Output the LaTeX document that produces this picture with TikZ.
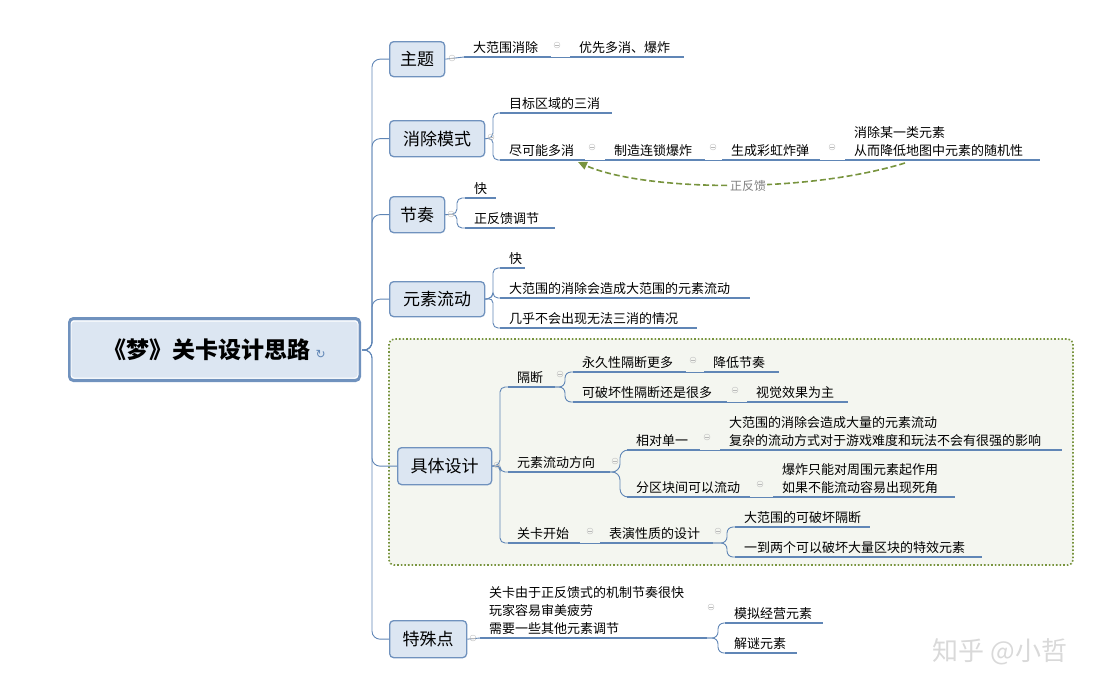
\documentclass[tikz,border=0pt]{standalone}
\usepackage{fontspec}
\setmainfont{Noto Sans CJK SC}
\newfontfamily\djv{DejaVu Sans}
\usetikzlibrary{arrows.meta}
\definecolor{ln}{RGB}{96,134,182}
\definecolor{bx}{RGB}{220,230,242}
\definecolor{bd}{RGB}{112,146,190}
\definecolor{ol}{RGB}{120,148,62}
\tikzset{
 cn/.style={draw=ln,line width=0.9pt},
 uline/.style={draw=ln,line width=2.2pt},
 lt/.style={inner sep=1pt,font=\fontsize{13}{18}\selectfont,align=left},
 topic/.style={draw=bd,fill=bx,rounded corners=4pt,line width=1.3pt,font=\fontsize{17}{20}\selectfont,inner sep=0pt,anchor=north west},
 mn/.style={circle,draw=gray!50,inner sep=0pt,minimum size=6pt,line width=0.4pt},
}
\newcommand\lf[5]{\coordinate (#1w) at (#2,#4); \coordinate (#1e) at (#3,#4);
 \draw[uline] (#1w)--(#1e); \node[lt,anchor=south west] (#1) at ({#2+8},{#4-2}) {#5};}
\newcommand\mn[2]{\node[mn] at (#1,#2) {}; \draw[gray!55,line width=0.4pt] ({#1-1.6},#2)--({#1+1.6},#2);}
\newcommand\tp[6]{\node[topic,minimum width=#4pt,minimum height=#5pt] (#1) at (#2,#3) {#6};}
\begin{document}
\begin{tikzpicture}[x=1pt,y=-1pt]
\useasboundingbox (0,0) rectangle (1118,697);
% frame
\draw[ol,dotted,line width=1.6pt,fill=ol!8,rounded corners=5pt] (389,339) rectangle (1073,565);
% root
\node[draw=bd,line width=3pt,fill=bx,rounded corners=4pt,minimum width=290pt,minimum height=62pt,font=\fontsize{23}{26}\selectfont\bfseries] (root) at (214.5,349.5) {《梦》关卡设计思路 \textcolor{ln}{\normalfont\djv\fontsize{12}{12}\selectfont ↻}};
\draw[white,line width=1pt,rounded corners=3pt] (71,321) rectangle (358,378);
% topics
\tp{t1}{389}{41}{55}{35}{主题}
\tp{t2}{389}{120}{95}{36}{消除模式}
\tp{t3}{389}{196}{55}{36}{节奏}
\tp{t4}{389}{281}{95}{35}{元素流动}
\tp{t5}{397}{447}{94}{37}{具体设计}
\tp{t6}{389}{620}{77}{37}{特殊点}
\coordinate (rE) at (362,350);
\foreach \t in {t1,t2,t3,t4,t5,t6}{\draw[cn,rounded corners=8pt] (rE) -- (372,350) |- (\t.west);}
% 主题
\lf{a1}{464}{551}{57}{大范围消除}
\lf{a2}{570}{684}{57}{优先多消、爆炸}
\draw[cn] (t1.east)--(a1w); \draw[cn] (a1e)--(a2w);
\mn{452}{58}\mn{557}{45}
% 消除模式
\lf{b1}{500}{612}{113}{目标区域的三消}
\lf{b2}{500}{585}{160}{尽可能多消}
\lf{b3}{605}{705}{160}{制造连锁爆炸}
\lf{b4}{722}{820}{160}{生成彩虹炸弹}
\lf{b5}{845}{1040}{160}{消除某一类元素\\从而降低地图中元素的随机性}
\coordinate (t2e) at (t2.east);
\foreach \c in {b1,b2}{\draw[cn,rounded corners=5pt] (t2e)--(493,138) |- (\c w);}
\draw[cn] (b2e)--(b3w); \draw[cn] (b3e)--(b4w); \draw[cn] (b4e)--(b5w);
\mn{491}{137}\mn{592}{147}\mn{713}{147}\mn{832}{147}
\draw[ol,line width=1.6pt,dash pattern=on 6pt off 3pt,-{Triangle[length=9pt,width=8pt]}] (905,163) .. controls (800,195) and (640,190) .. (578,162);
\node[font=\fontsize{12}{12}\selectfont\itshape,text=gray,fill=white,inner sep=1pt] (fk) at (748,186) {正反馈};
% 节奏
\lf{c1}{465}{496}{198}{快}
\lf{c2}{465}{555}{228}{正反馈调节}
\coordinate (t3e) at (t3.east);
\foreach \c in {c1,c2}{\draw[cn,rounded corners=5pt] (t3e)--(457,214) |- (\c w);}
\mn{451}{214}
% 元素流动
\lf{d1}{500}{525}{268}{快}
\lf{d2}{500}{750}{298}{大范围的消除会造成大范围的元素流动}
\lf{d3}{500}{697}{328}{几乎不会出现无法三消的情况}
\coordinate (t4e) at (t4.east);
\foreach \c in {d1,d2,d3}{\draw[cn,rounded corners=5pt] (t4e)--(493,298) |- (\c w);}
% 具体设计
\lf{e1}{508}{555}{387}{隔断}
\lf{e2}{508}{610}{472}{元素流动方向}
\lf{e3}{508}{580}{543}{关卡开始}
\coordinate (t5e) at (t5.east);
\foreach \c in {e1,e2,e3}{\draw[cn,rounded corners=5pt] (t5e)--(500,465) |- (\c w);}
\mn{497}{465}\mn{560}{374}\mn{615}{461}\mn{590}{531}\mn{718}{531}
\lf{f1}{573}{686}{372}{永久性隔断更多}
\lf{f2}{704}{779}{372}{降低节奏}
\lf{f3}{573}{727}{402}{可破坏性隔断还是很多}
\lf{f4}{747}{848}{402}{视觉效果为主}
\foreach \c in {f1,f3}{\draw[cn,rounded corners=6pt] (e1e)--(565,387) |- (\c w);}
\draw[cn] (f1e)--(f2w); \draw[cn] (f3e)--(f4w);
\mn{693}{360}\mn{735}{390}
\lf{g1}{627}{700}{450}{相对单一}
\lf{g2}{720}{1062}{450}{大范围的消除会造成大量的元素流动\\复杂的流动方式对于游戏难度和玩法不会有很强的影响}
\lf{g3}{627}{750}{497}{分区块间可以流动}
\lf{g4}{773}{955}{497}{爆炸只能对周围元素起作用\\如果不能流动容易出现死角}
\foreach \c in {g1,g3}{\draw[cn,rounded corners=8pt] (e2e)--(620,472) |- (\c w);}
\draw[cn] (g1e)--(g2w); \draw[cn] (g3e)--(g4w);
\mn{707}{437}\mn{760}{484}
\lf{h1}{600}{713}{543}{表演性质的设计}
\lf{h2}{735}{870}{527}{大范围的可破坏隔断}
\lf{h3}{735}{982}{557}{一到两个可以破坏大量区块的特效元素}
\draw[cn] (e3e)--(h1w);
\foreach \c in {h2,h3}{\draw[cn,rounded corners=6pt] (h1e)--(727,543) |- (\c w);}
% 特殊点
\lf{k1}{480}{707}{638}{关卡由于正反馈式的机制节奏很快\\玩家容易审美疲劳\\需要一些其他元素调节}
\lf{k2}{725}{823}{623}{模拟经营元素}
\lf{k3}{725}{797}{653}{解谜元素}
\draw[cn] (t6.east)--(k1w);
\foreach \c in {k2,k3}{\draw[cn,rounded corners=6pt] (k1e)--(718,638) |- (\c w);}
\mn{473}{638}\mn{711}{607}
% watermark
\node[font=\fontsize{26}{26}\selectfont,text=gray!30] (wm) at (1000,652) {知乎 @小哲};
\end{tikzpicture}
\end{document}
